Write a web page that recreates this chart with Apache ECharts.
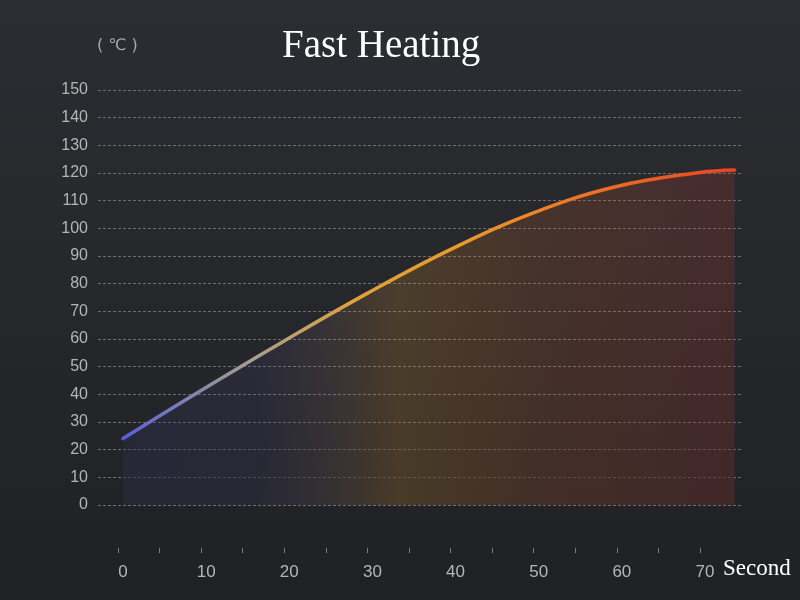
<!DOCTYPE html>
<html>
<head>
<meta charset="utf-8">
<script src="https://cdn.jsdelivr.net/npm/echarts@6/dist/echarts.min.js"></script>
<style>html,body{margin:0;padding:0;background:#26272b;}#c{width:800px;height:600px;}</style>
</head>
<body>
<div id="c"></div>
<script>
var titleText = 'Fast Heating';
var unitText = '( ℃ )';
var xName = 'Second';
var timeSec = [0.6, 10, 20, 30, 40, 50, 60, 70, 74.2];
var tempC   = [24, 41.4, 59.3, 76.5, 92.3, 105.6, 115.1, 120.2, 121.1];

var points = timeSec.map(function (t, i) { return [t, tempC[i]]; });

var chart = echarts.init(document.getElementById('c'));
chart.setOption({
  backgroundColor: new echarts.graphic.LinearGradient(0, 0, 0, 1, [
    {offset: 0, color: '#2c2d32'}, {offset: 1, color: '#202124'}
  ]),
  animation: false,
  title: {
    text: titleText, left: 277, top: 22,
    textStyle: {fontFamily: 'Liberation Serif', fontWeight: 'normal', fontSize: 39, color: '#ffffff'}
  },
  graphic: [
    {type: 'text', left: 97, top: 38, style: {text: unitText, fontFamily: 'DejaVu Sans', fontSize: 16, fill: '#a8a9ad'}},
    {type: 'text', left: 723, top: 557, style: {text: xName, fontFamily: 'Liberation Serif', fontSize: 23, fill: '#ffffff'}}
  ],
  grid: [
    {left: 98, right: 58, top: 90, bottom: 95},
    {left: 118, right: 100, top: 90, bottom: 52}
  ],
  xAxis: [
    {gridIndex: 0, type: 'value', min: -2.4, max: 75.1, show: false},
    {gridIndex: 1, type: 'value', min: 0, max: 70, interval: 5,
     axisLine: {show: false}, splitLine: {show: false},
     axisTick: {show: true, length: 5, lineStyle: {color: '#7d7e83', width: 1}},
     axisLabel: {margin: 16, padding: [0, 0, 0, 10], fontSize: 17, color: '#b4b5b9', fontFamily: 'Liberation Sans',
       formatter: function (v) { return v % 10 === 0 ? String(v) : ''; }}}
  ],
  yAxis: [
    {gridIndex: 0, type: 'value', min: 0, max: 150, interval: 10,
     axisLine: {show: false}, axisTick: {show: false},
     axisLabel: {margin: 10, fontSize: 16, color: '#b4b5b9', fontFamily: 'Liberation Sans'},
     splitLine: {show: true, lineStyle: {color: '#6c6d72', width: 1, type: [3, 2]}}},
    {gridIndex: 1, type: 'value', min: 0, max: 150, show: false}
  ],
  series: [
    {
      type: 'line', xAxisIndex: 0, yAxisIndex: 0, data: points, smooth: 0.4, symbol: 'none',
      lineStyle: {width: 3.5, cap: 'round',
        color: new echarts.graphic.LinearGradient(0, 0, 1, 0, [
          {offset: 0, color: '#585ed8'},
          {offset: 0.2, color: '#a49c94'},
          {offset: 0.38, color: '#dfa23c'},
          {offset: 0.55, color: '#eb9a2c'},
          {offset: 0.75, color: '#ee7424'},
          {offset: 1, color: '#e84424'}
        ])},
      areaStyle: {
        color: new echarts.graphic.LinearGradient(0, 0, 1, 0, [
          {offset: 0, color: 'rgba(80,90,220,0.12)'},
          {offset: 0.22, color: 'rgba(100,90,190,0.13)'},
          {offset: 0.45, color: 'rgba(225,155,40,0.28)'},
          {offset: 0.7, color: 'rgba(205,95,40,0.26)'},
          {offset: 1, color: 'rgba(200,55,45,0.27)'}
        ])}
    },
    {
      type: 'line', xAxisIndex: 0, yAxisIndex: 0, data: points, smooth: 0.4, symbol: 'none',
      lineStyle: {width: 0, opacity: 0}, silent: true, z: 1,
      areaStyle: {
        color: new echarts.graphic.LinearGradient(0, 0, 0, 1, [
          {offset: 0, color: 'rgba(34,35,39,0)'},
          {offset: 0.65, color: 'rgba(34,35,39,0)'},
          {offset: 1, color: 'rgba(34,35,39,0.9)'}
        ])}
    }
  ]
});
</script>
</body>
</html>
